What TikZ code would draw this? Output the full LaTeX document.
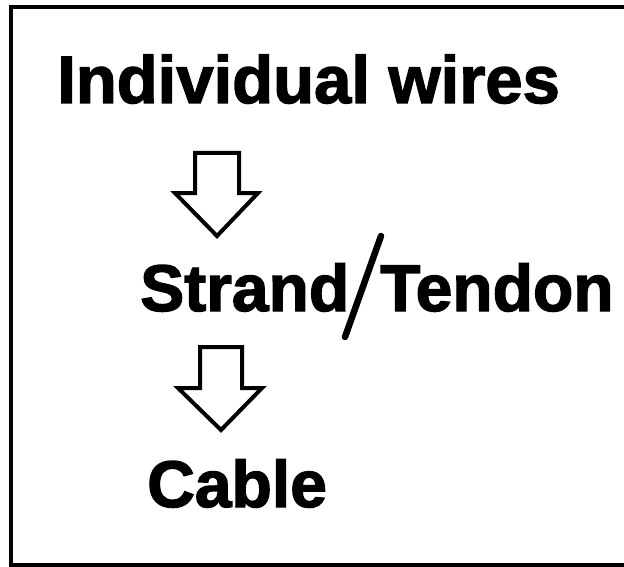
\documentclass[tikz,border=0pt]{standalone}
\usepackage{fontspec}
\setmainfont{Liberation Sans}
\newfontfamily\heavysans[FakeBold=2]{Liberation Sans Bold}
\begin{document}
\begin{tikzpicture}[x=1pt,y=-1pt,
  label/.style={inner sep=0pt,anchor=base west,font=\heavysans\fontsize{66}{70}\selectfont},
  blockarrow/.style={draw=black,fill=white,line width=4pt,line join=miter},
  frame/.style={draw=black,line width=3.6pt}]
  \useasboundingbox (0,0) rectangle (624,567);
  % open frame (runs off the right edge)
  \draw[frame] (624,7) -- (11,7) -- (11,565) -- (624,565);
  % labels
  \node[label,font=\heavysans\fontsize{67}{70}\selectfont] (wires) at (57,103) {Individual wires};
  \node[label] (strand) at (140,311) {Strand};
  \node[label] (tendon) at (380,311) {Tendon};
  \node[label] (cable) at (147,507) {Cable};
  % hollow down arrows
  \draw[blockarrow] (195,153) -- (239,153) -- (239,193) -- (258,193) -- (217,236)
    -- (175,193) -- (195,193) -- cycle;
  \draw[blockarrow] (200,347) -- (242,347) -- (242,388) -- (262,388) -- (221,430)
    -- (178,388) -- (200,388) -- cycle;
  % hand-drawn separator between the two words
  \coordinate (sTop) at (381,236);
  \coordinate (sBot) at (345,337);
  \draw[line width=6.5pt,line cap=round] (sTop) -- (sBot);
\end{tikzpicture}
\end{document}
